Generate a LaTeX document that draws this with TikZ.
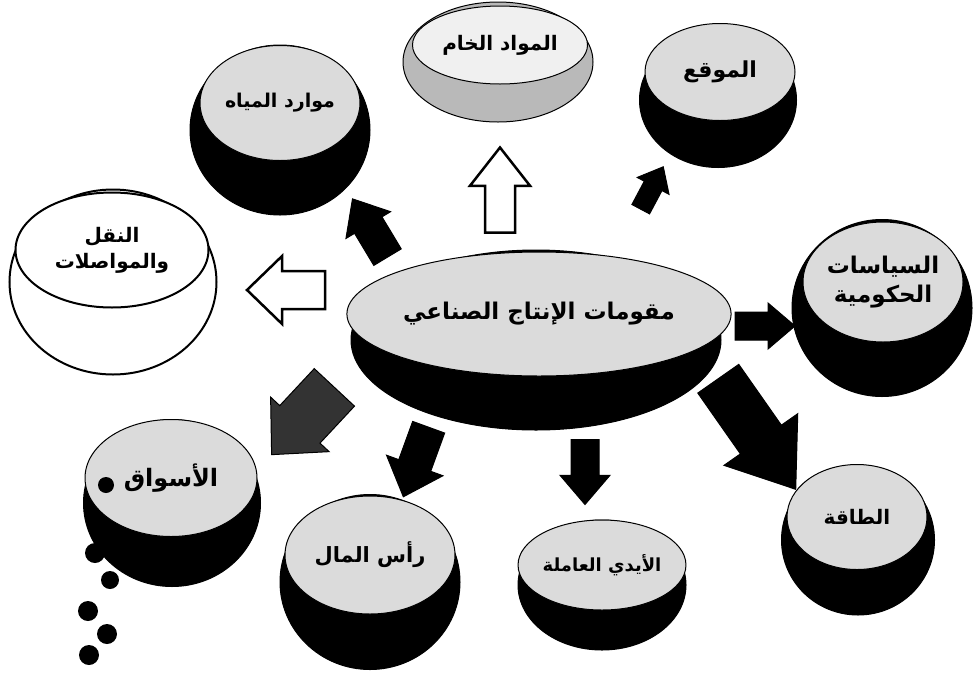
\documentclass[tikz,border=0pt]{standalone}
\usepackage{fontspec}
\newfontfamily\arabicfont[Script=Arabic]{DejaVu Sans}
\TeXXeTstate=1
\usetikzlibrary{shapes.geometric}

\tikzset{
  diskbody/.style={ellipse, fill=black, draw=black, line width=1pt, inner sep=0pt},
  diskface/.style={ellipse, fill=gray!28, draw=black, line width=1pt, inner sep=0pt,
    align=center, font=\arabicfont\bfseries\fontsize{20}{26}\selectfont},
  openarrow/.style={fill=white, draw=black, line width=2.5pt, line join=miter},
  filledarrow/.style={fill=black, draw=black, line width=1pt, line join=miter},
  pics/blockarrow/.style n args={3}{code={
    % #1 length, #2 head width, #3 shaft width
    \path[pic actions] (-#1/2,-#3/2) -- (0.05*#1,-#3/2) -- (0.05*#1,-#2/2) -- (#1/2,0)
      -- (0.05*#1,#2/2) -- (0.05*#1,#3/2) -- (-#1/2,#3/2) -- cycle;
  }}
}

\begin{document}
\begin{tikzpicture}[x=1pt, y=-1pt]
\useasboundingbox (0,0) rectangle (974,678);
\fill[white] (0,0) rectangle (974,678);

% Hub
\node[diskbody, minimum width=370pt, minimum height=180pt] (hubbody) at (536,340) {};
\node[diskface, minimum width=338pt, minimum height=124pt,
      font=\arabicfont\bfseries\fontsize{23}{28}\selectfont] (hub) at (539,314)
  {\beginR مقومات الإنتاج الصناعي\endR};

% Water resources
\node[diskbody, minimum width=180pt, minimum height=170pt] (waterbody) at (280,130) {};
\node[diskface, minimum width=160pt, minimum height=115pt,
      font=\arabicfont\bfseries\fontsize{19}{24}\selectfont] (water) at (280,103)
  {\beginR موارد المياه\endR};

% Raw materials
\node[diskbody, fill=gray!55, minimum width=190pt, minimum height=120pt] (rawbody) at (498,62) {};
\node[diskface, fill=gray!12, minimum width=175pt, minimum height=78pt] (raw) at (500,45)
  {\beginR المواد الخام\endR};

% Location
\node[diskbody, minimum width=157pt, minimum height=135pt] (sitebody) at (718,100) {};
\node[diskface, minimum width=150pt, minimum height=97pt,
      font=\arabicfont\bfseries\fontsize{22}{26}\selectfont] (site) at (720,72)
  {\beginR الموقع\endR};

% Transport
\node[diskbody, fill=white, line width=2pt, minimum width=207pt, minimum height=185pt] (transbody) at (113,282) {};
\node[diskface, fill=white, line width=2pt, minimum width=193pt, minimum height=115pt] (trans) at (112,250)
  {\beginR النقل\endR\\ \beginR والمواصلات\endR};

% Government policies
\node[diskbody, minimum width=180pt, minimum height=177pt] (govbody) at (882,308) {};
\node[diskface, minimum width=160pt, minimum height=120pt,
      font=\arabicfont\bfseries\fontsize{23}{29}\selectfont] (gov) at (883,282)
  {\beginR السياسات\endR\\ \beginR الحكومية\endR};

% Markets
\node[diskbody, minimum width=177pt, minimum height=167pt] (marketbody) at (172,503) {};
\node[diskface, minimum width=172pt, minimum height=117pt,
      font=\arabicfont\bfseries\fontsize{24}{28}\selectfont] (market) at (171,478)
  {\beginR الأسواق\endR};

% Capital
\node[diskbody, minimum width=180pt, minimum height=175pt] (capbody) at (370,582) {};
\node[diskface, minimum width=170pt, minimum height=118pt,
      font=\arabicfont\bfseries\fontsize{21}{26}\selectfont] (cap) at (370,555)
  {\beginR رأس المال\endR};

% Labour
\node[diskbody, minimum width=168pt, minimum height=130pt] (labourbody) at (602,585) {};
\node[diskface, minimum width=150pt, minimum height=90pt,
      font=\arabicfont\bfseries\fontsize{18}{22}\selectfont] (labour) at (602,565)
  {\beginR الأيدي العاملة\endR};

% Energy
\node[diskbody, minimum width=153pt, minimum height=150pt] (energybody) at (858,540) {};
\node[diskface, minimum width=140pt, minimum height=105pt] (energy) at (857,517)
  {\beginR الطاقة\endR};

% Bullet dots by the markets disk
\fill (106,485) circle (8pt);
\fill (95,553) circle (10pt);
\fill (110,580) circle (9pt);
\fill (88,611) circle (10pt);
\fill (107,634) circle (10pt);
\fill (89,655) circle (10pt);

% Block arrows out of the hub
\pic[filledarrow, rotate=121] at (370,228) {blockarrow={68}{52}{32}};
\pic[openarrow, rotate=90] at (500,190) {blockarrow={85}{60}{30}};
\pic[filledarrow, rotate=62] at (652,188) {blockarrow={48}{36}{20}};
\pic[openarrow, rotate=180] at (286,290) {blockarrow={78}{68}{38}};
\pic[filledarrow, rotate=0] at (765,326) {blockarrow={60}{46}{28}};
\pic[filledarrow, fill=black!80, rotate=227] at (303,421) {blockarrow={92}{80}{55}};
\pic[filledarrow, rotate=250] at (416,462) {blockarrow={74}{60}{34}};
\pic[filledarrow, rotate=270] at (585,472) {blockarrow={65}{50}{28}};
\pic[filledarrow, rotate=-55] at (757,434) {blockarrow={135}{90}{50}};

\end{tikzpicture}
\end{document}
